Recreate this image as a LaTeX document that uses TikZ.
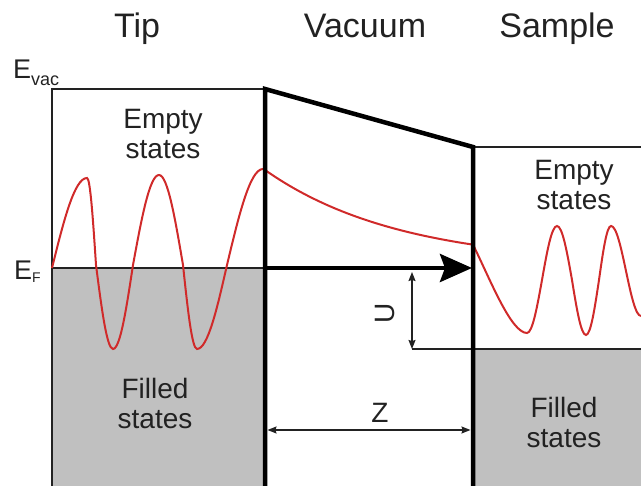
\documentclass[tikz,border=0pt]{standalone}
\usepackage{fontspec}
\setmainfont{Liberation Sans}
\usetikzlibrary{arrows.meta,positioning}
\usepackage{xcolor}
\definecolor{fillgray}{HTML}{C0C0C0}
\definecolor{wavered}{HTML}{D02A2A}
\definecolor{dark}{HTML}{222222}
\tikzset{
  thinline/.style={draw=dark, line width=1.4pt},
  barrier/.style={draw=black, line width=4.5pt},
  wave/.style={draw=wavered, line width=2pt},
  title/.style={font=\fontsize{34}{36}\selectfont, text=dark, inner sep=0pt},
  region/.style={font=\fontsize{28}{30}\selectfont, align=center, text=dark},
  level/.style={font=\fontsize{27}{29}\selectfont, text=dark, inner sep=0pt, anchor=base west},
  tunnel/.style={-{Stealth[length=32pt,width=28pt,inset=5pt]}, line width=4.5pt, draw=black},
  dimarrow/.style={{Stealth[length=9pt,width=7pt,inset=1pt]}-{Stealth[length=9pt,width=7pt,inset=1pt]}, line width=1.3pt, draw=dark}
}

\begin{document}
\begin{tikzpicture}[x=1pt, y=1pt]
  \useasboundingbox (0,0) rectangle (641,486);

  \fill[fillgray] (52,0) rectangle (265,218);
  \fill[fillgray] (473,0) rectangle (641,137);

  \coordinate (efTip) at (265,218);
  \coordinate (efSample) at (472,218);
  \coordinate (uTop) at (412,214);
  \coordinate (uBot) at (412,137);
  \coordinate (zL) at (267.5,56);
  \coordinate (zR) at (470.5,56);

  \draw[thinline] (52,0) -- (52,397) -- (265,397);
  \draw[thinline] (52,218) -- (efTip);
  \draw[thinline] (473,339) -- (641,339);
  \draw[thinline] (uBot) -- (641,137);

  % wave function: oscillating in the electrodes, decaying in the gap
  \draw[wave] (52,218) sin (87,308) cos (96,221) sin (113,137) cos (133,221)
    sin (159,311) cos (183,221) sin (197,137) cos (227,221) sin (263,317)
    -- plot[domain=265:473, samples=60] (\x, {221+95*exp(-(\x-265)/135)})
    .. controls (490,207) and (511,153) .. (527,153) cos (542,206) sin (557,260) cos (572,206)
    sin (586,151) cos (599,206) sin (611,260) cos (626,215) sin (641,170);

  \draw[barrier] (265,0) -- (265,397) -- (473,339) -- (473,0);

  \draw[tunnel] (efTip) -- (efSample);
  \draw[dimarrow] (uTop) -- (uBot);
  \draw[dimarrow] (zL) -- (zR);

  \node[title, anchor=base] (tip) at (137,448) {Tip};
  \node[title, anchor=base] (vacuum) at (365,448) {Vacuum};
  \node[title, anchor=base] (sample) at (557,448) {Sample};
  \node[region] (tipEmpty) at (163,352) {Empty\\states};
  \node[region] (tipFilled) at (155,82) {Filled\\states};
  \node[region] (sampleEmpty) at (574,301) {Empty\\states};
  \node[region] (sampleFilled) at (564,63) {Filled\\states};
  \node[region, rotate=90] (uLabel) at (385,173) {U};
  \node[region] (zLabel) at (380,73) {Z};
  \node[level] (evac) at (13,407) {E\raisebox{-7pt}{\fontsize{18}{18}\selectfont vac}};
  \node[level] (ef) at (14,206) {E\raisebox{-3pt}{\fontsize{14}{14}\selectfont F}};
\end{tikzpicture}
\end{document}
